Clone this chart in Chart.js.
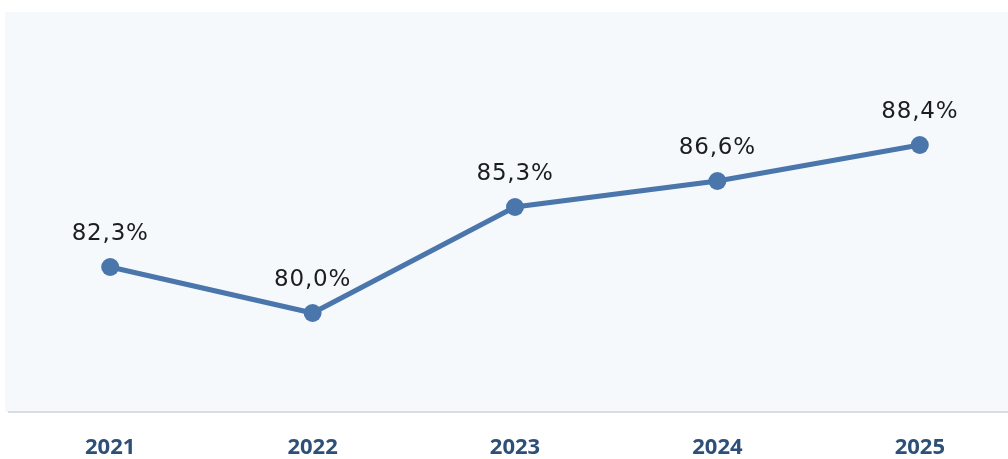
<!DOCTYPE html>
<html>
<head>
<meta charset="utf-8">
<script src="https://cdn.jsdelivr.net/npm/chart.js@4"></script>
<style>
  html, body { margin: 0; padding: 0; background: #fff; overflow: hidden; }
  #wrap { width: 1030px; height: 459px; }
</style>
</head>
<body>
<div id="wrap"><canvas id="rateChart" width="1030" height="459"></canvas></div>
<script>
// chart data
var years = ['2021', '2022', '2023', '2024', '2025'];
var rates = [82.3, 80.0, 85.3, 86.6, 88.4];
var yMin = 75;
var yMax = 95;

function fmtRate(v) {
    return v.toFixed(1).replace('.', ',') + '%';
}

// light panel behind the plot + bottom rule
var panelPlugin = {
    id: 'panel',
    beforeDraw: function(chart) {
        var a = chart.chartArea, c = chart.ctx;
        c.save();
        c.fillStyle = '#f5f9fc';
        c.fillRect(a.left - 4, a.top - 1, a.right - a.left + 4, a.bottom - a.top);
        c.strokeStyle = '#d9dde2';
        c.lineWidth = 2;
        c.beginPath();
        c.moveTo(a.left - 1, a.bottom - 1);
        c.lineTo(a.right, a.bottom - 1);
        c.stroke();
        c.restore();
    }
};

// value labels above points
var labelPlugin = {
    id: 'valueLabels',
    afterDatasetsDraw: function(chart) {
        var c = chart.ctx;
        var meta = chart.getDatasetMeta(0);
        c.save();
        c.font = '23px "DejaVu Sans", sans-serif';
        c.letterSpacing = '0.8px';
        c.fillStyle = '#1b1d20';
        c.textAlign = 'center';
        c.textBaseline = 'alphabetic';
        meta.data.forEach(function(pt, i) {
            c.fillText(fmtRate(rates[i]), pt.x, pt.y - 27);
        });
        c.restore();
    }
};

var ctx = document.getElementById('rateChart').getContext('2d');
var rateChart = new Chart(ctx, {
    type: 'line',
    data: {
        labels: years,
        datasets: [{
            data: rates,
            borderColor: '#4a76ab',
            backgroundColor: '#4a76ab',
            borderWidth: 5,
            pointRadius: 9,
            pointHoverRadius: 9,
            pointBorderWidth: 0,
            tension: 0
        }]
    },
    options: {
        responsive: false,
        animation: false,
        layout: { padding: { left: 9, right: 0, top: 13, bottom: 0 } },
        plugins: { legend: { display: false }, tooltip: { enabled: false } },
        scales: {
            x: {
                offset: true,
                grid: { display: false },
                border: { display: false },
                ticks: {
                    color: '#2e4f78',
                    font: { family: '"Open Sans", sans-serif', size: 22, weight: 'bold' },
                    padding: 14
                },
                afterFit: function(scale) {
                    scale.height = 46;
                }
            },
            y: {
                display: false,
                min: yMin,
                max: yMax
            }
        }
    },
    plugins: [panelPlugin, labelPlugin]
});
</script>
</body>
</html>
